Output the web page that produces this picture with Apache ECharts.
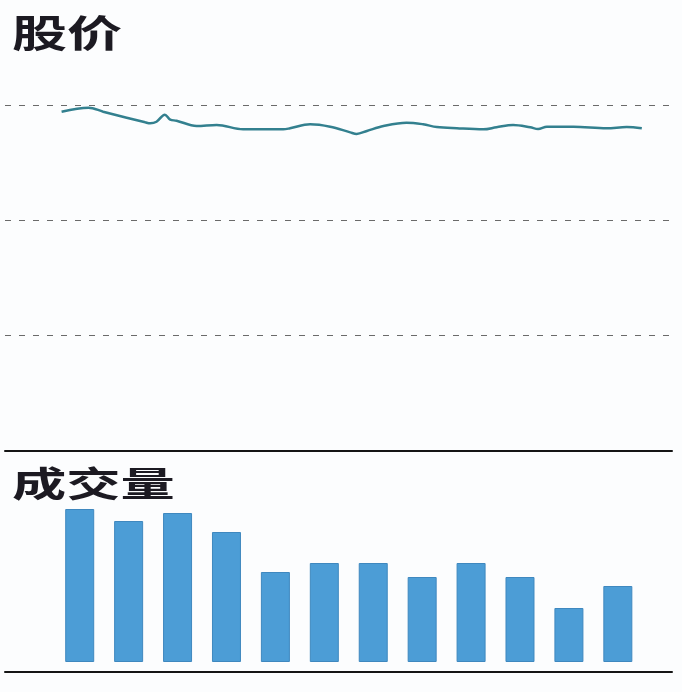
<!DOCTYPE html>
<html>
<head>
<meta charset="utf-8">
<script src="https://cdn.jsdelivr.net/npm/echarts@6/dist/echarts.min.js"></script>
<style>
  html, body { margin: 0; padding: 0; background: #fcfdfe; }
  #main { width: 682px; height: 692px; }
</style>
</head>
<body>
<div id="main"></div>
<script>
// 月份（成交量柱的类目）
var months = ['1月', '2月', '3月', '4月', '5月', '6月', '7月', '8月', '9月', '10月', '11月', '12月'];
// 成交量
var volume = [153, 141, 149, 130, 90, 99, 99, 85, 99, 85, 54, 76];
// 股价走势：时间位置（以月为单位）和价格
var priceT = [-0.37, 0.18, 0.48, 0.96, 1.34, 1.44, 1.57, 1.74, 1.85, 1.98, 2.39, 2.80, 3.34, 4.16, 4.30,
              4.71, 5.12, 5.53, 5.66, 5.87, 6.21, 6.68, 7.02, 7.30, 7.71, 8.25, 8.52, 8.86, 9.21,
              9.37, 9.55, 10.09, 10.77, 11.18, 11.49];
var price = [29.42, 29.77, 29.42, 28.90, 28.50, 28.41, 28.55, 29.16, 28.73, 28.64, 28.18, 28.27, 27.89, 27.89, 27.98,
             28.33, 28.12, 27.63, 27.49, 27.75, 28.18, 28.47, 28.33, 28.09, 27.98, 27.89, 28.07, 28.27, 28.07,
             27.92, 28.12, 28.12, 27.98, 28.09, 27.98];
// 股价纵轴刻度
var priceTicks = [0, 10, 20, 30];

var xMin = -1.527, xMax = 12.107;

var myChart = echarts.init(document.getElementById('main'));

var option = {
    backgroundColor: '#fcfdfe',
    animation: false,
    graphic: [
        {
            type: 'text', x: 12, y: 14, scaleX: 1.45,
            style: { text: '股价', font: 'bold 38px "Noto Sans CJK SC"', fill: '#1c1a22' }
        },
        {
            type: 'text', x: 12, y: 466, scaleX: 1.55,
            style: { text: '成交量', font: 'bold 35px "Noto Sans CJK SC"', fill: '#1c1a22' }
        }
    ],
    grid: [
        { left: 5, right: 10, top: 105, height: 346 },
        { left: 5, right: 10, top: 500, bottom: 30 }
    ],
    xAxis: [
        {
            type: 'value', gridIndex: 0, min: xMin, max: xMax,
            axisLine: { show: true, onZero: false, lineStyle: { color: '#151515', width: 2 } },
            axisTick: { show: false }, axisLabel: { show: false }, splitLine: { show: false }
        },
        {
            type: 'value', gridIndex: 1, min: xMin, max: xMax, offset: 10,
            axisLine: { show: true, onZero: false, lineStyle: { color: '#151515', width: 2 } },
            axisTick: { show: false }, axisLabel: { show: false }, splitLine: { show: false }
        }
    ],
    yAxis: [
        {
            type: 'value', gridIndex: 0, min: priceTicks[0], max: priceTicks[priceTicks.length - 1], interval: 10,
            axisLine: { show: false }, axisTick: { show: false }, axisLabel: { show: false },
            splitLine: { show: true, lineStyle: { color: '#6a6a6a', type: [6, 8], width: 1 } }
        },
        {
            type: 'value', gridIndex: 1, min: 0, max: 162,
            axisLine: { show: false }, axisTick: { show: false }, axisLabel: { show: false },
            splitLine: { show: false }
        }
    ],
    series: [
        {
            name: '股价',
            type: 'line',
            xAxisIndex: 0, yAxisIndex: 0,
            data: priceT.map(function (t, i) { return [t, price[i]]; }),
            smooth: 0.35,
            showSymbol: false,
            lineStyle: { color: '#33808f', width: 2.5 }
        },
        {
            name: '成交量',
            type: 'bar',
            xAxisIndex: 1, yAxisIndex: 1,
            data: volume.map(function (v, i) { return { name: months[i], value: [i, v] }; }),
            barWidth: 29,
            itemStyle: { color: '#4c9dd6', borderColor: '#3f88bf', borderWidth: 1 }
        }
    ]
};

myChart.setOption(option);
</script>
</body>
</html>
